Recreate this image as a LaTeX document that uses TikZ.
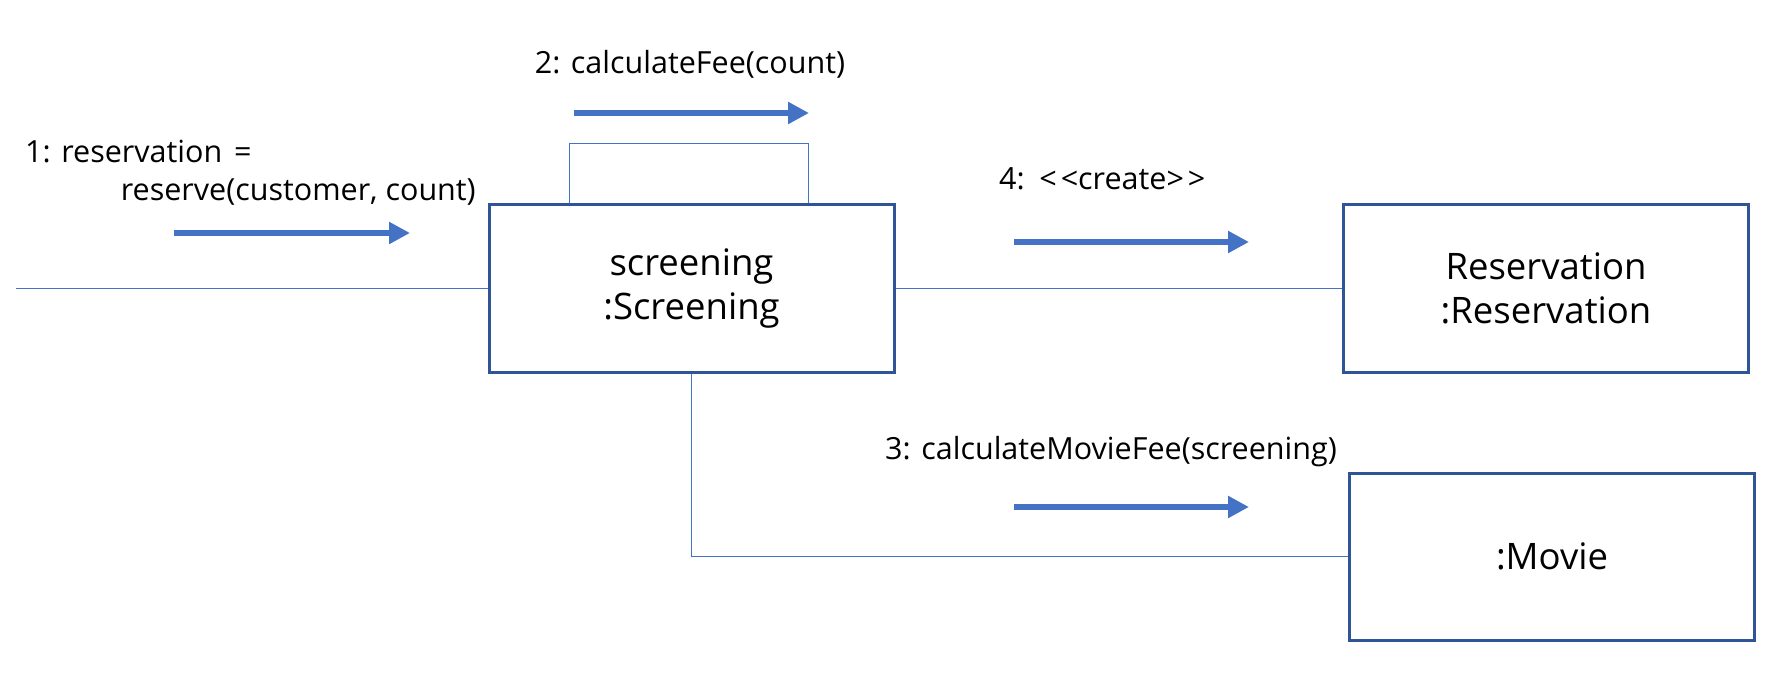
\documentclass[tikz,border=0pt]{standalone}
\usepackage{fontspec}
\setmainfont{Open Sans}
\usetikzlibrary{arrows.meta}
\definecolor{boxblue}{HTML}{2F5597}
\definecolor{accent}{HTML}{4472C4}
\begin{document}
\begin{tikzpicture}[x=1pt,y=-1pt,
  obj/.style={draw=boxblue,line width=3pt,minimum width=405pt,minimum height=167pt,align=center,inner sep=0pt,font=\fontsize{36.5}{44.5}\selectfont},
  link/.style={draw=accent,line width=1.6pt},
  msg/.style={draw=accent,line width=6pt,-{Triangle[length=21pt,width=21pt]}},
  lbl/.style={inner sep=0pt,font=\fontsize{30.5}{36}\selectfont}]
\useasboundingbox (0,0) rectangle (1788,687);
\node[obj] (scr) at (691.5,288.5) {\raisebox{-3pt}{screening}\\\raisebox{-3pt}{:Screening}};
\node[obj] (res) at (1546,288.5) {\raisebox{-2pt}{Reservation}\\\raisebox{-2pt}{:Reservation}};
\node[obj] (mov) at (1552,556.5) {:Movie};
\coordinate (left) at (16,288.5);
\draw[link] (left) -- (scr.west);
\draw[link] (scr.east) -- (res.west);
\draw[link] (scr.south) |- (mov.west);
\draw[link] ([xshift=82pt]scr.north west) |- ([xshift=-87pt,yshift=60pt]scr.north east) -- ([xshift=-87pt]scr.north east);
\draw[msg] (174,233) -- (410,233);
\draw[msg] (574,113) -- (809,113);
\draw[msg] (1014,242) -- (1249,242);
\draw[msg] (1014,507) -- (1249,507);
\node[lbl,anchor=west] (l1a) at (25,152) {1: reservation \kern4pt=};
\node[lbl,anchor=east] (l1b) at (476,192) {reserve(customer, count)};
\node[lbl] (l2) at (690,64) {2: calculateFee(count)};
\node[lbl,anchor=west] (l4) at (999,179) {4: \kern4pt<\kern4pt<create>\kern4pt>};
\node[lbl,anchor=west] (l3) at (885,452) {3: calculateMovieFee(screening)};
\end{tikzpicture}
\end{document}
